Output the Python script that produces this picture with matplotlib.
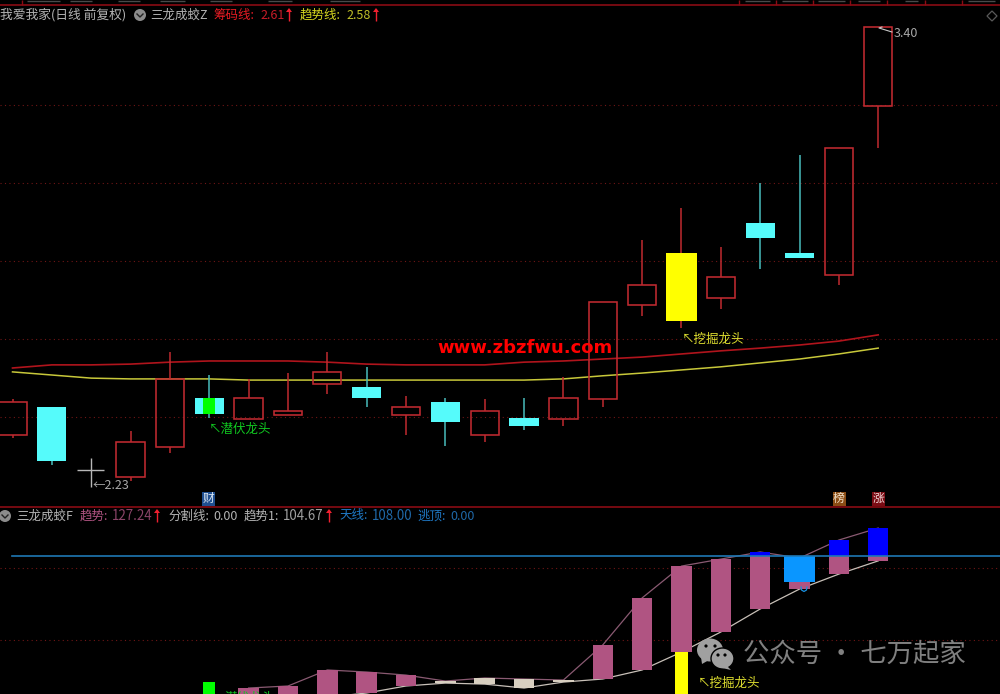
# three dragons kline screen, price panel on top and indicator panel below
import matplotlib
matplotlib.use("Agg")
import matplotlib.pyplot as plt
from matplotlib.patches import Circle, Ellipse, Polygon, Rectangle

plt.rcParams["font.family"] = ["Noto Sans CJK SC", "DejaVu Sans"]

# slot 2 has no candle (crosshair sits there)
slots = [0, 1, 3, 4, 5, 6, 7, 8, 9, 10, 11, 12, 13, 14, 15, 16, 17, 18, 19, 20, 21, 22]
body_top = [2.438, 2.425, 2.335, 2.497, 2.448, 2.448, 2.415, 2.515, 2.476, 2.425, 2.438, 2.415,
            2.397, 2.448, 2.694, 2.738, 2.820, 2.758, 2.897, 2.820, 3.090, 3.400]
body_bot = [2.353, 2.286, 2.245, 2.322, 2.407, 2.394, 2.404, 2.484, 2.448, 2.404, 2.386, 2.353,
            2.376, 2.394, 2.445, 2.687, 2.646, 2.705, 2.859, 2.807, 2.764, 3.197]
highs = [2.445, 2.425, 2.363, 2.566, 2.507, 2.497, 2.512, 2.566, 2.528, 2.453, 2.448, 2.445,
         2.448, 2.502, 2.694, 2.853, 2.936, 2.835, 3.000, 3.072, 3.090, 3.400]
lows = [2.345, 2.276, 2.235, 2.307, 2.397, 2.394, 2.404, 2.458, 2.425, 2.353, 2.325, 2.335,
        2.366, 2.376, 2.425, 2.658, 2.628, 2.676, 2.779, 2.807, 2.738, 3.090]
kinds = ["r", "c", "r", "r", "c", "r", "r", "r", "c", "r", "c", "r",
         "c", "r", "r", "r", "y", "r", "c", "c", "r", "r"]

chip_line = [2.525, 2.533, 2.533, 2.535, 2.540, 2.543, 2.543, 2.543, 2.540, 2.535, 2.533, 2.533,
             2.533, 2.540, 2.543, 2.548, 2.553, 2.561, 2.569, 2.576, 2.584, 2.594, 2.610]
trend_line = [2.515, 2.507, 2.499, 2.497, 2.497, 2.497, 2.494, 2.494, 2.494, 2.494, 2.494, 2.494,
              2.494, 2.494, 2.497, 2.505, 2.512, 2.520, 2.528, 2.538, 2.548, 2.561, 2.576]
price_grid = [3.2, 3.0, 2.8, 2.6, 2.4]

# lower panel
low_slots = [6, 7, 8, 9, 10, 11, 12, 13, 14, 15, 16, 17, 18, 19, 20, 21, 22]
trend_top = [17.3, 18.7, 29.7, 28.3, 26.2, 22.1, 24.2, 23.5, 22.8, 46.9, 79.2, 101.1, 105.9, 110.8, 106.6, 119.0, 127.24]
trend_bot = [9.0, 10.0, 11.0, 13.9, 18.7, 20.7, 20.0, 17.3, 21.4, 23.5, 29.7, 42.0, 55.8, 71.6, 85.3, 95.6, 104.67]
pale_slots = [11, 12, 13, 14]
sky_top = 108.0
sky_bot = 90.1
sky_line = 108.0
low_grid = [100, 50]

fig = plt.figure(figsize=(10, 6.94), dpi=100, facecolor="black")
H = 694.0
XLIM = (-12.5 / 39.35, (1000 - 12.5) / 39.35)

ax = fig.add_axes([0, (H - 507) / H, 1, (507 - 5) / H], facecolor="black")
ax.set_xlim(XLIM)
ax.set_ylim(2.1683, 3.4565)
ax2 = fig.add_axes([0, 0, 1, (694 - 507) / H], facecolor="black")
ax2.set_xlim(XLIM)
ax2.set_ylim(13.2, 141.7)
for a in (ax, ax2):
    a.axis("off")

RED = "#c02a30"
CYAN = "#55fbfb"
for y in price_grid:
    ax.axhline(y, color="#701616", lw=0.8, ls=(0, (1, 3)), zorder=1)
for y in low_grid:
    ax2.axhline(y, color="#701616", lw=0.8, ls=(0, (1, 3)), zorder=1)

ax.plot(range(23), chip_line, color="#b0141c", lw=1.2, zorder=2)
ax.plot(range(23), trend_line, color="#c8c83a", lw=1.1, zorder=2)

for s, t, b, h, l, k in zip(slots, body_top, body_bot, highs, lows, kinds):
    wick = {"r": RED, "c": "#48bcbc", "y": RED}[k]
    ax.vlines(s, t, h, color=wick, lw=1.1, zorder=3)
    ax.vlines(s, l, b, color=wick, lw=1.1, zorder=3)
    if k == "r":
        ax.bar(s, t - b, bottom=b, width=0.72, facecolor="none", edgecolor=RED, lw=1.15, zorder=4)
    elif k == "c":
        ax.bar(s, t - b, bottom=b, width=0.74, color=CYAN, zorder=4)
    else:
        ax.bar(s, t - b, bottom=b, width=0.79, color="#ffff00", zorder=4)
ax.bar(5, 2.448 - 2.407, bottom=2.407, width=0.31, color="#00ff00", zorder=5)

# lower indicator
ax2.plot(low_slots, trend_top, color="#8a5a72", lw=0.9, zorder=2)
ax2.plot(low_slots, trend_bot, color="#c8c0b8", lw=0.9, zorder=2)
for s, t, b in zip(low_slots, trend_top, trend_bot):
    col = "#d8cfc0" if s in pale_slots else "#b05482"
    ax2.bar(s, t - b, bottom=b, width=0.52, color=col, zorder=3)
for s, t in zip([19, 21, 22], [110.8, 119.0, 127.24]):
    ax2.bar(s, t - sky_line, bottom=sky_line, width=0.52, color="#0000ff", zorder=4)
ax2.bar(20, sky_top - sky_bot, bottom=sky_bot, width=0.79, color="#0a96ff", zorder=4)
ax2.bar(17, 42.0 - 13.2, bottom=13.2, width=0.31, color="#ffff00", zorder=4)
ax2.bar(5, 21.4 - 13.2, bottom=13.2, width=0.31, color="#00ff00", zorder=4)
ax2.axhline(sky_line, xmin=12 / 1000, color="#1f78b4", lw=1.2, zorder=5)

# overlay in pixel coordinates for the screen furniture and labels
ov = fig.add_axes([0, 0, 1, 1], facecolor="none")
ov.set_xlim(0, 1000)
ov.set_ylim(694, 0)
ov.axis("off")
ov.hlines([5, 507], 0, 1000, color="#8a0c14", lw=1.2)
ov.vlines([22, 739, 776, 813, 850, 887, 925, 962], 0, 5, color="#8a0c14", lw=1.0)
# bottoms of the clipped quote row above the top rule
for x0, x1 in [(27, 60), (70, 92), (118, 140), (160, 185), (210, 232), (268, 292), (330, 360), (745, 770),
               (782, 808), (818, 845), (858, 880), (905, 918), (968, 995)]:
    ov.hlines(1, x0, x1, color="#4a4a4a", lw=1.0)


def label(x, y, s, color, size=9, **kw):
    ov.text(x, y, s, color=color, fontsize=size, va="center", ha=kw.pop("ha", "left"), **kw)


def up_arrow(x, y):
    ov.vlines(x, y - 6, y + 6, color="#f02030", lw=1.0)
    ov.add_patch(Polygon([[x - 3, y - 3], [x + 3, y - 3], [x, y - 7]], color="#f02030", lw=0))


def chevron(x, y):
    ov.add_patch(Circle((x, y), 6, color="#8c8c8c", lw=0))
    ov.plot([x - 3, x, x + 3], [y - 1, y + 2, y - 1], color="#222222", lw=1.0)


GRAY = "#b4b4b4"
label(0, 15, "我爱我家(日线 前复权)", GRAY, size=9.2)
chevron(140, 15)
label(150, 15, "三龙成蛟Z", GRAY)
label(214, 15, "筹码线:", "#e81c24")
label(260, 15, "2.61", "#c81c28")
up_arrow(289, 15)
label(300, 15, "趋势线:", "#d8d820")
label(346, 15, "2.58", "#c0c028")
up_arrow(376, 15)

chevron(5, 516)
label(16, 516, "三龙成蛟F", GRAY)
label(80, 516, "趋势:", "#b05482")
label(112, 516, "127.24", "#8a4468", size=9.6)
up_arrow(157, 516)
label(168, 516, "分割线:", GRAY)
label(213, 516, "0.00", GRAY)
label(244, 516, "趋势1:", GRAY)
label(283, 516, "104.67", "#a0a0a0", size=9.6)
up_arrow(329, 516)
label(339, 516, "天线:", "#1f78c4")
label(372, 516, "108.00", "#1f68a8", size=9.6)
label(417, 516, "逃顶:", "#1f78c4")
label(450, 516, "0.00", "#1f68a8")

label(209, 429, "↖潜伏龙头", "#10c820")
label(682, 339, "↖挖掘龙头", "#e0e030")
label(698, 683, "↖挖掘龙头", "#e0e030")
label(225, 698, "潜伏龙头", "#10c820")
label(93, 485, "←2.23", "#a8a8a8")
label(894, 33, "3.40", "#a8a8a8")
ov.plot([892, 879, 882], [32, 28, 27], color="#c8c8c8", lw=0.8)

# crosshair
ov.hlines(470, 77, 104, color="#b8b8b8", lw=1.0)
ov.vlines(91, 458, 487, color="#b8b8b8", lw=1.0)

# diamond at the top right
ov.add_patch(Polygon([[992, 11], [997, 16], [992, 21], [987, 16]], fill=False, edgecolor="#5a5a5a", lw=0.9))

# event tags
for x, s, bg, fg in [(208.5, "财", "#1f4f90", "#d8e4f0"), (839, "榜", "#8a4c14", "#f0e0c8"), (878.5, "涨", "#7a0c14", "#f0d8d8")]:
    ov.add_patch(Rectangle((x - 6.5, 491.5), 13, 14, color=bg, lw=0))
    ov.text(x, 498, s, color=fg, fontsize=8.5, ha="center", va="center")

# cyan mark under slot 20
ov.plot([801, 801.5, 804, 806.5, 807], [587, 590, 591.5, 590, 587], color="#1890e0", lw=0.9)

# site watermark
ov.text(524.5, 348, "www.zbzfwu.com", color="#ff0000", fontsize=13, fontweight="bold",
        family="DejaVu Sans", ha="center", va="center")

# wechat watermark
ov.add_patch(Ellipse((710, 650), 26, 23, color="#a0a0a0", lw=0))
ov.add_patch(Polygon([[701, 657], [702, 664], [709, 660]], color="#a0a0a0", lw=0))
ov.add_patch(Ellipse((722.5, 658.5), 23, 21, facecolor="#a0a0a0", edgecolor="black", lw=1.0))
ov.add_patch(Polygon([[727, 666], [731, 670], [722, 668]], color="#a0a0a0", lw=0))
for ex, ey in [(706, 646), (715, 646), (718, 655), (725, 655)]:
    ov.add_patch(Circle((ex, ey), 1.6, color="black", lw=0))
label(743, 654, "公众号 · 七万起家", "#808080", size=19)

fig.savefig("out.png", dpi=100, facecolor="black")
